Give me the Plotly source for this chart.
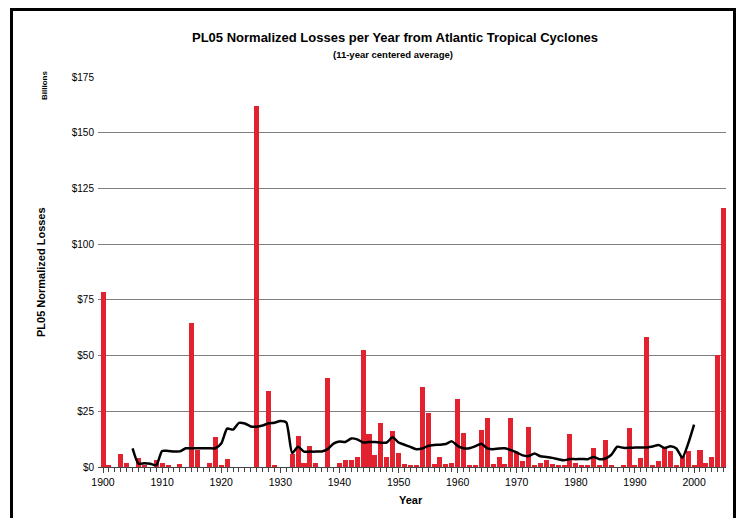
import plotly.graph_objects as go

years = list(range(1900, 2006))
losses = [
    78.5, 1.0, 0, 5.7, 1.7, 0, 4.2, 1.0, 0, 3.2,          # 1900-1909
    1.6, 1.0, 0, 1.2, 0, 64.7, 7.8, 0, 1.7, 13.6,          # 1910-1919
    0.9, 3.6, 0, 0, 0, 0, 162.0, 0, 34.0, 0.9,             # 1920-1929
    0, 0, 5.7, 14.0, 1.7, 9.6, 1.7, 0, 40.0, 0,            # 1930-1939
    1.9, 3.0, 3.0, 4.5, 52.5, 14.7, 5.4, 19.9, 4.6, 16.2,  # 1940-1949
    6.1, 1.2, 0.9, 1.0, 36.0, 24.1, 1.2, 4.5, 1.2, 1.7,    # 1950-1959
    30.5, 15.1, 0.9, 0.9, 16.5, 21.8, 1.2, 4.6, 1.2, 21.8, # 1960-1969
    6.1, 2.7, 18.1, 0.9, 1.9, 3.1, 1.2, 0.9, 0.9, 14.7,    # 1970-1979
    1.9, 0.9, 0.9, 8.4, 0.9, 12.0, 0.9, 0, 0.9, 17.4,      # 1980-1989
    0.9, 3.9, 58.3, 0.9, 2.6, 8.5, 7.2, 0.9, 5.0, 7.0,     # 1990-1999
    1.0, 7.6, 2.0, 4.6, 50.3, 116.0,                       # 2000-2005
]

avg_years = list(range(1905, 2001))
avg_values = [
    8.4, 1.5, 1.7, 1.5, 0.8,                               # 1905-1909
    7.2, 7.2, 7.0, 7.0, 8.4, 8.4, 8.4, 8.4, 8.4, 8.4,      # 1910-1919
    10.5, 17.2, 16.8, 19.8, 19.5, 18.2, 18.1, 18.6, 19.6, 19.9,  # 1920-1929
    20.6, 20.0, 6.3, 9.1, 6.9, 6.9, 6.9, 7.0, 8.0, 10.5,   # 1930-1939
    11.4, 11.2, 12.8, 12.4, 11.0, 11.2, 11.2, 10.9, 11.0, 13.4,  # 1940-1949
    11.0, 10.0, 9.0, 8.0, 8.3, 9.5, 9.9, 10.0, 10.3, 11.5, # 1950-1959
    9.5, 8.4, 8.4, 9.3, 10.4, 8.4, 8.0, 8.3, 8.4, 7.6,     # 1960-1969
    6.5, 5.2, 4.9, 6.1, 4.8, 4.5, 4.1, 3.5, 3.0, 3.6,      # 1970-1979
    3.5, 3.6, 3.5, 4.5, 3.5, 3.8, 5.5, 9.1, 8.6, 8.6,      # 1980-1989
    8.7, 8.8, 8.8, 9.2, 9.9, 8.5, 9.3, 8.3, 4.2, 10.5,     # 1990-1999
    19.0,                                                  # 2000
]

y_ticks = [0, 25, 50, 75, 100, 125, 150, 175]
y_tick_labels = ["$0", "$25", "$50", "$75", "$100", "$125", "$150", "$175"]
x_ticks = list(range(1900, 2001, 10))

FONT = "Liberation Sans, Arial, sans-serif"

# page offset of the figure inside the browser (default body margin)
OFF = 8
PL, PT, PW, PH = 98, 77, 628, 390  # plot area in screen pixels


def px(x):
    return (x - PL) / PW


def py(y):
    return (PT + PH - y) / PH


fig = go.Figure()
fig.add_trace(go.Bar(
    x=years, y=losses, width=0.85,
    marker=dict(color="#E2232F", line=dict(width=0)),
    showlegend=False,
))
fig.add_trace(go.Scatter(
    x=avg_years, y=avg_values, mode="lines",
    line=dict(color="black", width=2.5, shape="spline", smoothing=0.6),
    showlegend=False,
))

fig.update_layout(
    width=746, height=518,
    margin=dict(l=PL - OFF, r=746 - (PL - OFF) - PW, t=PT - OFF, b=518 - (PT - OFF) - PH),
    paper_bgcolor="white", plot_bgcolor="white",
    font=dict(family=FONT, color="black", size=10),
    bargap=0,
    annotations=[
        dict(text="<b>PL05 Normalized Losses per Year from Atlantic Tropical Cyclones</b>",
             xref="paper", yref="paper", x=px(395), y=py(38),
             showarrow=False, font=dict(size=13, family=FONT), xanchor="center", yanchor="middle"),
        dict(text="<b>(11-year centered average)</b>",
             xref="paper", yref="paper", x=px(393), y=py(54),
             showarrow=False, font=dict(size=9.5, family=FONT), xanchor="center", yanchor="middle"),
        dict(text="<b>Billions</b>", textangle=-90,
             xref="paper", yref="paper", x=px(44), y=py(86),
             showarrow=False, font=dict(size=8, family=FONT), xanchor="center", yanchor="middle"),
        dict(text="<b>PL05 Normalized Losses</b>", textangle=-90,
             xref="paper", yref="paper", x=px(41), y=py(272),
             showarrow=False, font=dict(size=11, family=FONT), xanchor="center", yanchor="middle"),
        dict(text="<b>Year</b>",
             xref="paper", yref="paper", x=px(411), y=py(500),
             showarrow=False, font=dict(size=11, family=FONT), xanchor="center", yanchor="middle"),
    ],
    shapes=[
        dict(type="line", xref="paper", yref="paper",
             x0=px(11.5), x1=px(11.5), y0=py(9.5), y1=py(540),
             line=dict(color="black", width=3)),
        dict(type="line", xref="paper", yref="paper",
             x0=px(10), x1=px(736), y0=py(9.5), y1=py(9.5),
             line=dict(color="black", width=3)),
        dict(type="line", xref="paper", yref="paper",
             x0=px(734.5), x1=px(734.5), y0=py(9.5), y1=py(540),
             line=dict(color="black", width=3)),
    ],
)

fig.update_xaxes(
    range=[1899.15, 2005.4],
    tickmode="array", tickvals=x_ticks, ticktext=[str(v) for v in x_ticks],
    ticks="outside", ticklen=5, tickcolor="#444", tickwidth=1,
    minor=dict(dtick=1, tick0=1900, ticks="outside", ticklen=4, tickcolor="#444", tickwidth=1),
    showline=True, linecolor="#444", linewidth=1,
    showgrid=False, zeroline=False,
    tickfont=dict(size=10.5, family=FONT),
)
fig.update_yaxes(
    range=[0, 175],
    tickmode="array", tickvals=y_ticks, ticktext=y_tick_labels,
    ticks="", showline=False, ticklabelstandoff=3,
    showgrid=True, gridcolor="#7f7f7f", gridwidth=1.3,
    zeroline=False,
    tickfont=dict(size=10, family=FONT),
)

fig.write_html("out.html")
